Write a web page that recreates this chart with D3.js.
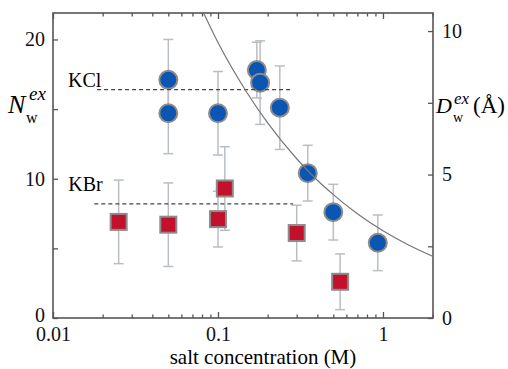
<!DOCTYPE html>
<html>
<head>
<meta charset="utf-8">
<script src="https://d3js.org/d3.v7.min.js"></script>
<style>
body { margin: 0; background: #fff; }
</style>
</head>
<body>
<div id="chart-area"></div>
<script>
// KCl (blue circles)
var kclConc = [0.05, 0.05, 0.1, 0.172, 0.18, 0.237, 0.35, 0.5, 0.93];
var kclN    = [17.1, 14.7, 14.7, 17.8, 16.9, 15.1, 10.4, 7.6, 5.4];
var kclErr  = [2.9, 2.9, 3.0, 2.0, 3.0, 3.0, 2.0, 2.0, 2.0];

// KBr (red squares)
var kbrConc = [0.025, 0.05, 0.1, 0.11, 0.3, 0.55];
var kbrN    = [6.9, 6.7, 7.1, 9.3, 6.1, 2.6];
var kbrErr  = [3.0, 3.0, 2.0, 3.0, 2.0, 2.0];

// dashed average lines
var kclMean = {from: 0.0185, to: 0.28, value: 16.4};
var kbrMean = {from: 0.0178, to: 0.285, value: 8.2};

// grey curve, right axis (Å)
var curveConc = [0.08, 0.1, 0.15, 0.2, 0.3, 0.4, 0.5, 0.7, 1, 1.4, 2.0];
var curveD    = [10.75, 9.6, 7.85, 6.8, 5.55, 4.8, 4.3, 3.63, 3.04, 2.57, 2.15];

// ticks
var xMajorTicks = [0.01, 0.1, 1];
var xTickLabels = ["0.01", "0.1", "1"];
var xMinorTicks = [0.02, 0.03, 0.04, 0.05, 0.06, 0.07, 0.08, 0.09,
                   0.2, 0.3, 0.4, 0.5, 0.6, 0.7, 0.8, 0.9, 2];
var yLeftTicks = [0, 5, 10, 15, 20];
var yLeftLabels = ["0", "", "10", "", "20"];
var yRightTicks = [0, 2.5, 5, 7.5, 10];
var yRightLabels = ["0", "", "5", "", "10"];

var serif = "'Liberation Serif', 'Times New Roman', Times, 'DejaVu Serif', serif";

var margin = {top: 13, right: 75, bottom: 51, left: 53};
var width = 508 - margin.left - margin.right;
var height = 369 - margin.top - margin.bottom;

var svg = d3.select("#chart-area").append("svg")
            .attr("width", 508)
            .attr("height", 369)
            .attr("font-family", serif);

var g = svg.append("g")
           .attr("transform", "translate(" + margin.left + ", " + margin.top + ")");

var x = d3.scaleLog()
          .domain([0.01, 2.01])
          .range([0, width]);

var y = d3.scaleLinear()
          .domain([0, 21.9])
          .range([height, 0]);

var y2 = d3.scaleLinear()
           .domain([0, 10.63])
           .range([height, 0]);

var axisColor = "#555";

// axes
function styleAxis(sel) {
  sel.attr("font-family", serif);
  sel.select(".domain").remove();
  sel.selectAll("line").attr("stroke", axisColor).attr("stroke-width", 1.3);
  sel.selectAll("text").attr("font-size", "20px").attr("fill", "#111");
}

g.append("g")
  .attr("transform", "translate(0, " + height + ")")
  .call(d3.axisBottom(x).tickValues(xMinorTicks).tickFormat("").tickSize(-3.5))
  .call(styleAxis);

g.append("g")
  .attr("transform", "translate(0, " + height + ")")
  .call(d3.axisBottom(x).tickValues(xMajorTicks)
          .tickFormat((d, i) => xTickLabels[i]).tickSize(-6).tickPadding(9))
  .call(styleAxis);

g.append("g")
  .call(d3.axisTop(x).tickValues(xMinorTicks).tickFormat("").tickSize(-3.5))
  .call(styleAxis);

g.append("g")
  .call(d3.axisTop(x).tickValues(xMajorTicks).tickFormat("").tickSize(-6))
  .call(styleAxis);

var yAxisGroup = g.append("g")
  .call(d3.axisLeft(y).tickValues(yLeftTicks)
          .tickFormat((d, i) => yLeftLabels[i]).tickSize(-5).tickPadding(8))
  .call(styleAxis);

// lift the bottom "0" a little so it clears "0.01"
yAxisGroup.selectAll(".tick text")
  .filter((d) => d === 0)
  .attr("dy", "0.15em");

g.append("g")
  .attr("transform", "translate(" + width + ", 0)")
  .call(d3.axisRight(y2).tickValues(yRightTicks)
          .tickFormat((d, i) => yRightLabels[i]).tickSize(-5).tickPadding(9))
  .call(styleAxis);

// frame
g.append("rect")
  .attr("width", width)
  .attr("height", height)
  .attr("fill", "none")
  .attr("stroke", axisColor)
  .attr("stroke-width", 1.6);

// clip for the curve
g.append("clipPath").attr("id", "plot-clip")
  .append("rect").attr("width", width).attr("height", height);

// error bars
function errorBars(conc, vals, errs) {
  var bars = g.append("g")
              .attr("stroke", "#b9bec3")
              .attr("stroke-width", 1.5)
              .selectAll("g")
              .data(conc)
              .enter().append("g");
  bars.append("line")
      .attr("x1", (d) => x(d)).attr("x2", (d) => x(d))
      .attr("y1", (d, i) => y(vals[i] - errs[i]))
      .attr("y2", (d, i) => y(vals[i] + errs[i]));
  bars.append("line")
      .attr("x1", (d) => x(d) - 5).attr("x2", (d) => x(d) + 5)
      .attr("y1", (d, i) => y(vals[i] - errs[i]))
      .attr("y2", (d, i) => y(vals[i] - errs[i]));
  bars.append("line")
      .attr("x1", (d) => x(d) - 5).attr("x2", (d) => x(d) + 5)
      .attr("y1", (d, i) => y(vals[i] + errs[i]))
      .attr("y2", (d, i) => y(vals[i] + errs[i]));
}

errorBars(kclConc, kclN, kclErr);
errorBars(kbrConc, kbrN, kbrErr);

// markers
var side = 16;
g.append("g").selectAll("rect")
  .data(kbrConc)
  .enter().append("rect")
  .attr("x", (d) => x(d) - side / 2)
  .attr("y", (d, i) => y(kbrN[i]) - side / 2)
  .attr("width", side)
  .attr("height", side)
  .attr("fill", "#c3112b")
  .attr("stroke", "#8c8c8c")
  .attr("stroke-width", 2);

g.append("g").selectAll("circle")
  .data(kclConc)
  .enter().append("circle")
  .attr("cx", (d) => x(d))
  .attr("cy", (d, i) => y(kclN[i]))
  .attr("r", 9)
  .attr("fill", "#0b55b3")
  .attr("stroke", "#8c8c8c")
  .attr("stroke-width", 2);

// dashed means
[kclMean, kbrMean].forEach((m) => {
  g.append("line")
    .attr("x1", x(m.from)).attr("x2", x(m.to))
    .attr("y1", y(m.value)).attr("y2", y(m.value))
    .attr("stroke", "#444")
    .attr("stroke-width", 1.2)
    .attr("stroke-dasharray", "4,3");
});

g.append("text")
  .attr("x", x(kclMean.from) - 29)
  .attr("y", y(kclMean.value) - 3)
  .attr("font-size", "20px")
  .text("KCl");

g.append("text")
  .attr("x", x(kbrMean.from) - 26)
  .attr("y", y(kbrMean.value) - 13)
  .attr("font-size", "20px")
  .text("KBr");

// curve
var line = d3.line()
             .x((d) => x(d))
             .y((d, i) => y2(curveD[i]))
             .curve(d3.curveMonotoneX);

g.append("path")
  .attr("clip-path", "url(#plot-clip)")
  .attr("d", line(curveConc))
  .attr("fill", "none")
  .attr("stroke", "#777")
  .attr("stroke-width", 1.2);

// axis titles
svg.append("text")
  .attr("x", margin.left + width / 2 + 20)
  .attr("y", 364)
  .attr("font-size", "21px")
  .attr("text-anchor", "middle")
  .text("salt concentration (M)");

var nLabel = svg.append("text");
nLabel.append("tspan").attr("x", 8).attr("y", 113)
      .attr("font-size", "26px").attr("font-style", "italic").text("N");
nLabel.append("tspan").attr("x", 29).attr("y", 100)
      .attr("font-size", "19px").attr("font-style", "italic").text("ex");
nLabel.append("tspan").attr("x", 26).attr("y", 123)
      .attr("font-size", "16px").text("w");

var dLabel = svg.append("text");
dLabel.append("tspan").attr("x", 436).attr("y", 113)
      .attr("font-size", "22px").attr("font-style", "italic").text("D");
dLabel.append("tspan").attr("x", 454).attr("y", 104)
      .attr("font-size", "17px").attr("font-style", "italic").text("ex");
dLabel.append("tspan").attr("x", 453).attr("y", 122)
      .attr("font-size", "14px").text("w");
dLabel.append("tspan").attr("x", 473).attr("y", 113)
      .attr("font-size", "23px").text("(Å)");
</script>
</body>
</html>
